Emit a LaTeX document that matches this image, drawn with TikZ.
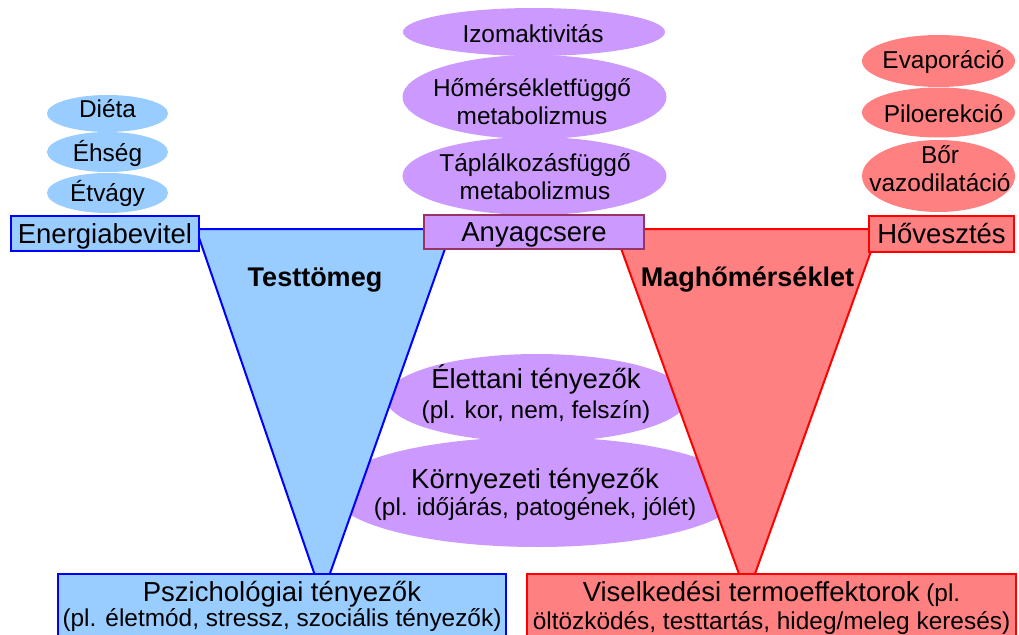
\documentclass[tikz,border=0pt]{standalone}
\usepackage{fontspec}
\setmainfont{Liberation Sans}
\usetikzlibrary{shapes.geometric}
\definecolor{bfill}{HTML}{99CCFF}
\definecolor{bline}{HTML}{0000FF}
\definecolor{pfill}{HTML}{CC99FF}
\definecolor{pline}{HTML}{993366}
\definecolor{rfill}{HTML}{FF8080}
\definecolor{rline}{HTML}{FF0000}
\newcommand{\myMain}{\fontsize{27.5}{30}\selectfont}
\newcommand{\myBold}{\fontsize{27}{30}\selectfont\bfseries}
\newcommand{\mySub}{\fontsize{24.4}{28}\selectfont}
\begin{document}
\begin{tikzpicture}[x=1pt,y=-1pt,
  ellb/.style={ellipse, fill=bfill, inner sep=0pt},
  ellp/.style={ellipse, fill=pfill, inner sep=0pt},
  ellr/.style={ellipse, fill=rfill, inner sep=0pt},
  tsub/.style={font=\mySub, inner sep=0pt, anchor=base},
  tmulti/.style={inner sep=0pt, anchor=north, align=center, font=\fontsize{24.4}{#1}\selectfont},
  tbold/.style={font=\myBold, inner sep=0pt, anchor=base},
  box/.style={rectangle, line width=2pt, inner sep=0pt, font=\myMain, text height=19.5pt, text depth=0pt},
  bigbox/.style={rectangle, line width=2pt, anchor=north, inner xsep=0pt, inner ysep=0.6pt, align=center, font=\fontsize{24.4}{#1}\selectfont},
  tri/.style={line width=2pt, line join=round}
]
\useasboundingbox (0,0) rectangle (1019,634);

% blue ellipses
\node[ellb, minimum width=121, minimum height=37] (e1) at (107.5,113.5) {};
\node[ellb, minimum width=121, minimum height=40] (e2) at (107.5,152) {};
\node[ellb, minimum width=121, minimum height=40] (e3) at (107.5,193) {};
\node[tsub] (t1) at (107.5,117) {Diéta};
\node[tsub] (t2) at (107.5,161) {Éhség};
\node[tsub] (t3) at (107.5,201) {Étvágy};

% purple ellipses (top)
\node[ellp, minimum width=262, minimum height=48] (p1) at (534,32) {};
\node[ellp, minimum width=264, minimum height=84] (p2) at (534.5,97) {};
\node[ellp, minimum width=264, minimum height=78] (p3) at (534.5,176) {};
\node[tsub] (tp1) at (533,42) {Izomaktivitás};
\node[tmulti=27.4] (tp2) at (532,72.7) {\rule{0pt}{24pt}Hőmérsékletfüggő\\metabolizmus};
\node[tmulti=27.4] (tp3) at (535,147.7) {\rule{0pt}{24pt}Táplálkozásfüggő\\metabolizmus};

% red ellipses
\node[ellr, minimum width=153, minimum height=52] (r1) at (938.5,61) {};
\node[ellr, minimum width=153, minimum height=50] (r2) at (938.5,112.5) {};
\node[ellr, minimum width=153, minimum height=72] (r3) at (938.5,176) {};
\node[tsub] (tr1) at (943.5,69) {Evaporáció};
\node[tsub] (tr2) at (943.5,122) {Piloerekció};
\node[tmulti=28.7] (tr3) at (940,139) {\rule{0pt}{24pt}Bőr\\vazodilatáció};

% middle ellipses
\node[ellp, minimum width=302, minimum height=88] (m1) at (537,398) {};
\node[ellp, minimum width=410, minimum height=110] (m2) at (537,492) {};
\node[tmulti=30] (tm1) at (536,361) {\rule{0pt}{27pt}{\myMain Élettani tényezők}\\(pl. kor, nem, felszín)};
\node[tmulti=27] (tm2) at (535,461) {\rule{0pt}{27pt}{\myMain Környezeti tényezők}\\(pl. időjárás, patogének, jólét)};

% triangles
\filldraw[tri, fill=bfill, draw=bline] (196,229) -- (452,229) -- (322,596) -- cycle;
\filldraw[tri, fill=rfill, draw=rline] (614,229) -- (879,229) -- (747,596) -- cycle;

% top boxes
\node[box, draw=bline, fill=bfill, minimum width=188, minimum height=35] (energ) at (105,233.5) {Energiabevitel};
\node[box, draw=pline, fill=pfill, minimum width=220, minimum height=34] (anyag) at (534,232) {Anyagcsere};
\node[box, draw=rline, fill=rfill, minimum width=145, minimum height=36] (hovesz) at (941.5,234) {Hővesztés};

% bold labels
\node[tbold] (testt) at (315,286) {Testtömeg};
\node[tbold] (magh) at (747.5,286) {Maghőmérséklet};

% bottom boxes
\node[bigbox=25.2, draw=bline, fill=bfill, minimum width=448] (psz) at (282,573)
  {\rule{0pt}{27pt}{\myMain Pszichológiai tényezők}\\(pl. életmód, stressz, szociális tényezők)\rule[-14pt]{0pt}{0pt}};
\node[bigbox=27.7, draw=rline, fill=rfill, minimum width=489] (visel) at (771.5,573)
  {\rule{0pt}{27pt}{\myMain Viselkedési termoeffektorok} (pl.\\öltözködés, testtartás, hideg/meleg keresés)\rule[-14pt]{0pt}{0pt}};
\end{tikzpicture}
\end{document}
